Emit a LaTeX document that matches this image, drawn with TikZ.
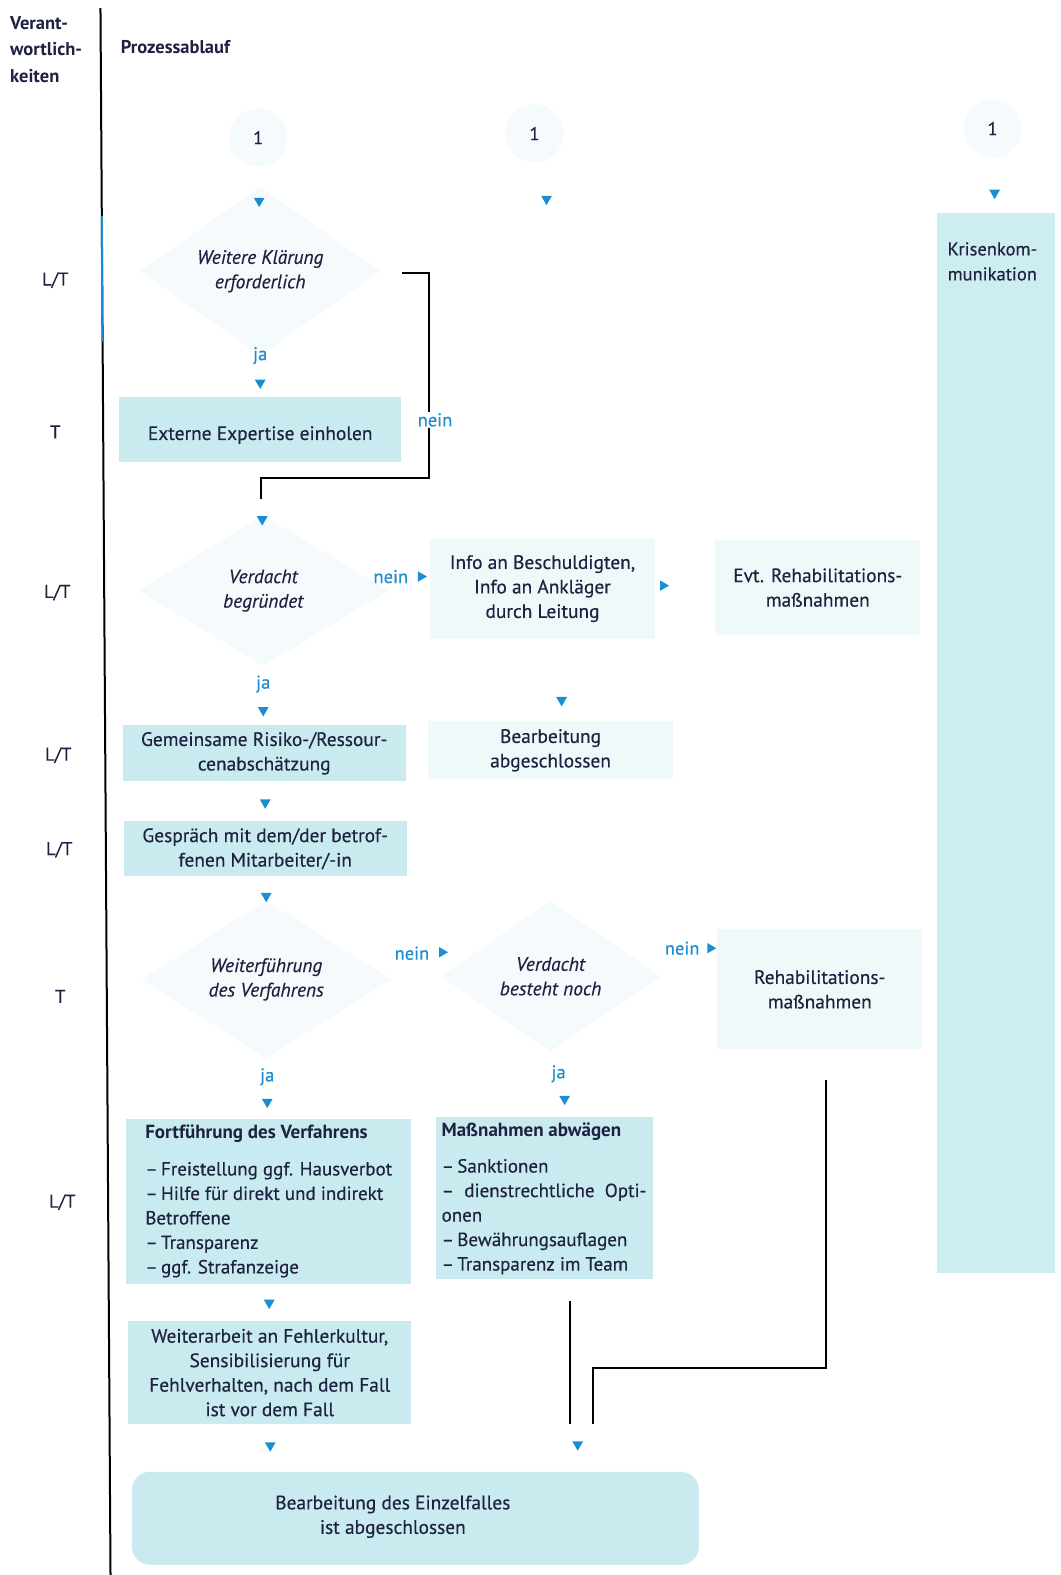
\documentclass[tikz,border=0pt]{standalone}
\usepackage{fontspec}
\setmainfont{PT Sans}[UprightFeatures={FakeBold=0.35},ItalicFeatures={FakeBold=0.35}]
\usetikzlibrary{shapes.geometric}
\definecolor{boxcyan}{HTML}{C9EBEF}
\definecolor{kriscyan}{HTML}{CDEDF0}
\definecolor{faintcyan}{HTML}{F0F9FA}
\definecolor{faintdia}{HTML}{F5FBFC}
\definecolor{txtnavy}{HTML}{1E2240}
\definecolor{arrowblue}{HTML}{1B8ED1}
\tikzset{
  base/.style={font=\fontsize{19.4}{24.5}\selectfont, text=txtnavy, inner sep=0pt, align=center,
    execute at begin node={\rule{0pt}{24pt}}},
  hdr/.style={font=\fontsize{18.5}{26.5}\selectfont\bfseries, text=txtnavy, inner sep=0pt},
  resp/.style={font=\fontsize{18.5}{24}\selectfont, text=txtnavy, inner sep=0pt},
  strongbox/.style={base, fill=boxcyan},
  faintbox/.style={base, fill=faintcyan},
  listbox/.style={base, fill=boxcyan, align=left, font=\fontsize{19}{24.5}\selectfont},
  decision/.style={diamond, fill=faintdia, inner sep=0pt, align=center, text=txtnavy,
    font=\fontsize{19.4}{24.5}\selectfont\itshape, execute at begin node={\rule{0pt}{24pt}}},
  startc/.style={circle, fill=faintdia, minimum size=58pt, inner sep=0pt, text=txtnavy,
    font=\fontsize{18.5}{24}\selectfont},
  tridown/.style={regular polygon, regular polygon sides=3, shape border rotate=180,
    fill=arrowblue, minimum size=12.5pt, inner sep=0pt},
  triright/.style={regular polygon, regular polygon sides=3, shape border rotate=-90,
    fill=arrowblue, minimum size=12pt, inner sep=0pt},
  yn/.style={font=\fontsize{18.5}{24}\selectfont, text=arrowblue, inner sep=1pt},
  conn/.style={draw=black, line width=2pt},
}
\begin{document}
\begin{tikzpicture}[x=1.0047pt,y=-1.0045pt]
\useasboundingbox (0,0) rectangle (1056,1568);
\fill[white] (0,0) rectangle (1056,1568);

% left divider
\coordinate (vtop) at (100,8);
\coordinate (vbot) at (110,1568);
\draw[line width=2pt] (vtop) -- (vbot);
\draw[line width=2pt, arrowblue] (101.3,215) -- (101.9,340);

% headers
\node[hdr, align=left, anchor=north west] (hv) at (10,16) {Verant-\\wortlich-\\keiten};
\node[hdr, anchor=west] (hp) at (120,47) {Prozessablauf};

% responsibilities
\node[resp] (r1) at (55,279) {L/T};
\node[resp] (r2) at (55,430) {T};
\node[resp] (r3) at (57,590) {L/T};
\node[resp] (r4) at (58,752) {L/T};
\node[resp] (r5) at (59,846) {L/T};
\node[resp] (r6) at (60,992) {T};
\node[resp] (r7) at (62,1197) {L/T};

% start markers
\node[startc] (s1) at (257,137) {1};
\node[startc] (s2) at (532,133) {1};
\node[startc] (s3) at (988,128) {1};

% Krisenkommunikation column
\node[fill=kriscyan, minimum width=118pt, minimum height=1060pt, inner sep=0pt] (kris) at (991,740) {};
\node[hdr, font=\fontsize{18.5}{25}\selectfont, align=left, anchor=north west] (krist) at (943,241) {Krisenkom-\\munikation};

% decisions
\node[decision, minimum width=240pt, minimum height=130pt] (d1) at (259,270) {Weitere Klärung\\erforderlich};
\node[decision, minimum width=250pt, minimum height=150pt] (d2) at (262,588) {Verdacht\\begründet};
\node[decision, minimum width=250pt, minimum height=150pt] (d3) at (265,975) {Weiterführung\\des Verfahrens};
\node[decision, minimum width=220pt, minimum height=150pt] (d4) at (548,972) {Verdacht\\besteht noch};

% strong boxes
\node[strongbox, minimum width=282pt, minimum height=65pt] (b1) at (259,428) {Externe Expertise einholen};
\node[strongbox, minimum width=283pt, minimum height=56pt] (b2) at (263,750) {Gemeinsame Risiko-/Ressour-\\cenabschätzung};
\node[strongbox, minimum width=283pt, minimum height=55pt] (b3) at (264,845) {Gespräch mit dem/der betrof-\\fenen Mitarbeiter/-in};
\node[listbox, minimum width=285pt, minimum height=165pt] (b4) at (267.5,1196)
  {\textbf{Fortführung des Verfahrens}\\[12pt]
   –\,Freistellung ggf. Hausverbot\\
   –\,Hilfe für direkt und indirekt\\
   Betroffene\\
   –\,Transparenz\\
   –\,ggf. Strafanzeige};
\node[listbox, minimum width=217pt, minimum height=162pt] (b5) at (541.5,1193)
  {\textbf{Maßnahmen abwägen}\\[12pt]
   –\,Sanktionen\\
   –\ \ dienstrechtliche\ \ Opti-\\
   onen\\
   –\,Bewährungsauflagen\\
   –\,Transparenz im Team};
\node[strongbox, minimum width=283pt, minimum height=103pt] (b6) at (268.5,1366.5)
  {Weiterarbeit an Fehlerkultur,\\Sensibilisierung für\\Fehlverhalten, nach dem Fall\\ist vor dem Fall};
\node[fill=boxcyan, rounded corners=18pt, minimum width=567pt, minimum height=93pt, inner sep=0pt] (b7) at (413.5,1511.5) {};
\node[base] (b7t) at (391,1510) {Bearbeitung des Einzelfalles\\ist abgeschlossen};

% faint boxes
\node[faintbox, minimum width=225pt, minimum height=100pt] (f1) at (540,586) {Info an Beschuldigten,\\Info an Ankläger\\durch Leitung};
\node[faintbox, minimum width=205pt, minimum height=95pt] (f2) at (814,585) {Evt. Rehabilitations-\\maßnahmen};
\node[faintbox, minimum width=245pt, minimum height=58pt] (f3) at (548,747) {Bearbeitung\\abgeschlossen};
\node[faintbox, minimum width=205pt, minimum height=120pt] (f4) at (816,985) {Rehabilitations-\\maßnahmen};

% down triangles
\node[tridown] (t1) at (258,200) {};
\node[tridown] (t2) at (544,198) {};
\node[tridown] (t3) at (990,192) {};
\node[tridown] (t4) at (259,381) {};
\node[tridown] (t5) at (261,517) {};
\node[tridown] (t6) at (262,707) {};
\node[tridown] (t7) at (559,697) {};
\node[tridown] (t8) at (264,799) {};
\node[tridown] (t9) at (265,892) {};
\node[tridown] (t10) at (266,1097) {};
\node[tridown] (t11) at (562,1094) {};
\node[tridown] (t12) at (268,1297) {};
\node[tridown] (t13) at (269,1439) {};
\node[tridown] (t14) at (575,1438) {};

% right triangles
\node[triright] (tr1) at (419,574) {};
\node[triright] (tr2) at (660,583) {};
\node[triright] (tr3) at (440,948) {};
\node[triright] (tr4) at (707,944) {};

% ja / nein labels
\node[yn] (ja1) at (259,354) {ja};
\node[yn] (ja2) at (262,681) {ja};
\node[yn] (ja3) at (266,1072) {ja};
\node[yn] (ja4) at (556,1069) {ja};
\node[yn] (ne2) at (389,574) {nein};
\node[yn] (ne3) at (410,949) {nein};
\node[yn] (ne4) at (679,944) {nein};

% connectors
\coordinate (c1) at (400,272);
\coordinate (c4) at (260,497);
\draw[conn] (c1) -| (427,476) -| (c4);
\node[yn, fill=white] (ne1) at (433,418) {nein};

\coordinate (m1) at (567,1295);
\coordinate (m2) at (567,1418);
\draw[conn] (m1) -- (m2);

\coordinate (h1) at (822,1075);
\coordinate (h2) at (590,1418);
\draw[conn] (h1) |- (590,1362) -- (h2);
\end{tikzpicture}
\end{document}
